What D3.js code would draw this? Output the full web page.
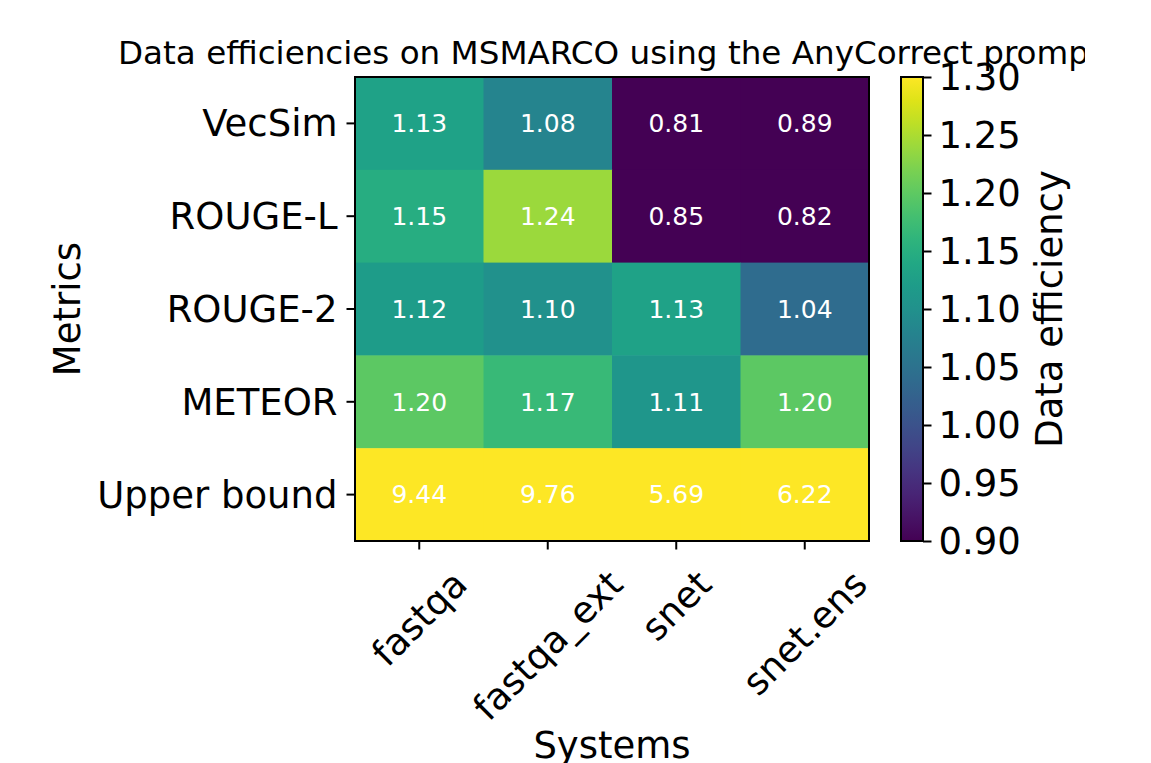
<!DOCTYPE html>
<html>
<head>
<meta charset="utf-8">
<script src="https://cdn.jsdelivr.net/npm/d3@7"></script>
<style>
  body { margin: 0; background: #fff; }
  text { font-family: "DejaVu Sans", sans-serif; }
</style>
</head>
<body>
<svg id="chart"></svg>
<script>
const systems = ["fastqa", "fastqa_ext", "snet", "snet.ens"];
const metrics = ["VecSim", "ROUGE-L", "ROUGE-2", "METEOR", "Upper bound"];
// rows follow metrics, columns follow systems
const efficiency = [
    [1.13, 1.08, 0.81, 0.89],
    [1.15, 1.24, 0.85, 0.82],
    [1.12, 1.10, 1.13, 1.04],
    [1.20, 1.17, 1.11, 1.20],
    [9.44, 9.76, 5.69, 6.22]
];
const colorDomain = [0.9, 1.3];
const cbarTicks = [0.90, 0.95, 1.00, 1.05, 1.10, 1.15, 1.20, 1.25, 1.30];
const title = "Data efficiencies on MSMARCO using the AnyCorrect promp";

const W = 1151, H = 763;
const plot = { left: 355, right: 869, top: 77, bottom: 541 };
const cbar = { left: 901, right: 923 };
const fs = 37;

const svg = d3.select("#chart").attr("width", W).attr("height", H);

const x = d3.scaleBand().domain(systems).range([plot.left, plot.right]);
const y = d3.scaleBand().domain(metrics).range([plot.top, plot.bottom]);
const color = d3.scaleSequential(d3.interpolateViridis).domain(colorDomain).clamp(true);

const cells = efficiency.flatMap((row, i) =>
    row.map((v, j) => ({ metric: metrics[i], system: systems[j], value: v })));

// heatmap cells
svg.append("g").selectAll("rect")
    .data(cells)
    .join("rect")
    .attr("x", d => x(d.system))
    .attr("y", d => y(d.metric))
    .attr("width", x.bandwidth() + 0.5)
    .attr("height", y.bandwidth() + 0.5)
    .attr("fill", d => color(d.value));

svg.append("g").selectAll("text")
    .data(cells)
    .join("text")
    .attr("x", d => x(d.system) + x.bandwidth() / 2)
    .attr("y", d => y(d.metric) + y.bandwidth() / 2)
    .attr("dy", "0.35em")
    .attr("text-anchor", "middle")
    .attr("fill", "#fff")
    .attr("font-size", 25)
    .text(d => d.value.toFixed(2));

svg.append("rect")
    .attr("x", plot.left).attr("y", plot.top)
    .attr("width", plot.right - plot.left).attr("height", plot.bottom - plot.top)
    .attr("fill", "none").attr("stroke", "#000").attr("stroke-width", 2);

// y axis
const yAxis = svg.append("g")
    .attr("transform", `translate(${plot.left},0)`)
    .call(d3.axisLeft(y).tickSize(8.5).tickPadding(9));
yAxis.select(".domain").remove();
yAxis.selectAll(".tick line").attr("stroke-width", 2);
yAxis.selectAll(".tick text").attr("font-size", fs).attr("fill", "#000").attr("dy", "0.35em");

// x axis, labels rotated 45 and centred under the tick
const xAxis = svg.append("g")
    .attr("transform", `translate(0,${plot.bottom})`)
    .call(d3.axisBottom(x).tickSize(8.5).tickFormat(""));
xAxis.select(".domain").remove();
xAxis.selectAll(".tick line").attr("stroke-width", 2);

const lineH = fs * 1.164, labelTop = plot.bottom + 21;
svg.append("g").selectAll("text")
    .data(systems)
    .join("text")
    .attr("font-size", fs)
    .attr("text-anchor", "middle")
    .attr("dy", "0.35em")
    .text(d => d)
    .each(function(d) {
        const len = this.getComputedTextLength();
        const cy = labelTop + (len + lineH) * Math.SQRT1_2 / 2;
        const cx = x(d) + x.bandwidth() / 2;
        d3.select(this).attr("transform", `translate(${cx},${cy}) rotate(-45)`);
    });

// axis titles
svg.append("text")
    .attr("transform", `translate(80,${(plot.top + plot.bottom) / 2}) rotate(-90)`)
    .attr("text-anchor", "middle")
    .attr("font-size", fs)
    .text("Metrics");

svg.append("text")
    .attr("x", (plot.left + plot.right) / 2)
    .attr("y", 758)
    .attr("text-anchor", "middle")
    .attr("font-size", fs)
    .text("Systems");

// title, cut off on the right like the source image
svg.append("clipPath").attr("id", "titleClip")
    .append("rect").attr("x", 0).attr("y", 0).attr("width", 1085).attr("height", 80);
svg.append("text")
    .attr("clip-path", "url(#titleClip)")
    .attr("x", 118)
    .attr("y", 64)
    .attr("font-size", 32.6)
    .text(title);

// colorbar
const cy = d3.scaleLinear().domain(colorDomain).range([plot.bottom, plot.top]);
const grad = svg.append("defs").append("linearGradient")
    .attr("id", "viridisGrad")
    .attr("x1", 0).attr("y1", 1).attr("x2", 0).attr("y2", 0);
grad.selectAll("stop")
    .data(d3.range(0, 1.0001, 0.05))
    .join("stop")
    .attr("offset", t => t)
    .attr("stop-color", t => d3.interpolateViridis(t));

svg.append("rect")
    .attr("x", cbar.left).attr("y", plot.top)
    .attr("width", cbar.right - cbar.left).attr("height", plot.bottom - plot.top)
    .attr("fill", "url(#viridisGrad)")
    .attr("stroke", "#000").attr("stroke-width", 2);

const cAxis = svg.append("g")
    .attr("transform", `translate(${cbar.right},0)`)
    .call(d3.axisRight(cy).tickValues(cbarTicks).tickFormat(d3.format(".2f")).tickSize(8.5).tickPadding(7));
cAxis.select(".domain").remove();
cAxis.selectAll(".tick line").attr("stroke-width", 2);
cAxis.selectAll(".tick text").attr("font-size", fs).attr("fill", "#000").attr("dy", "0.35em");

svg.append("text")
    .attr("transform", `translate(1062,${(plot.top + plot.bottom) / 2}) rotate(-90)`)
    .attr("text-anchor", "middle")
    .attr("font-size", fs)
    .text("Data efficiency");
</script>
</body>
</html>
